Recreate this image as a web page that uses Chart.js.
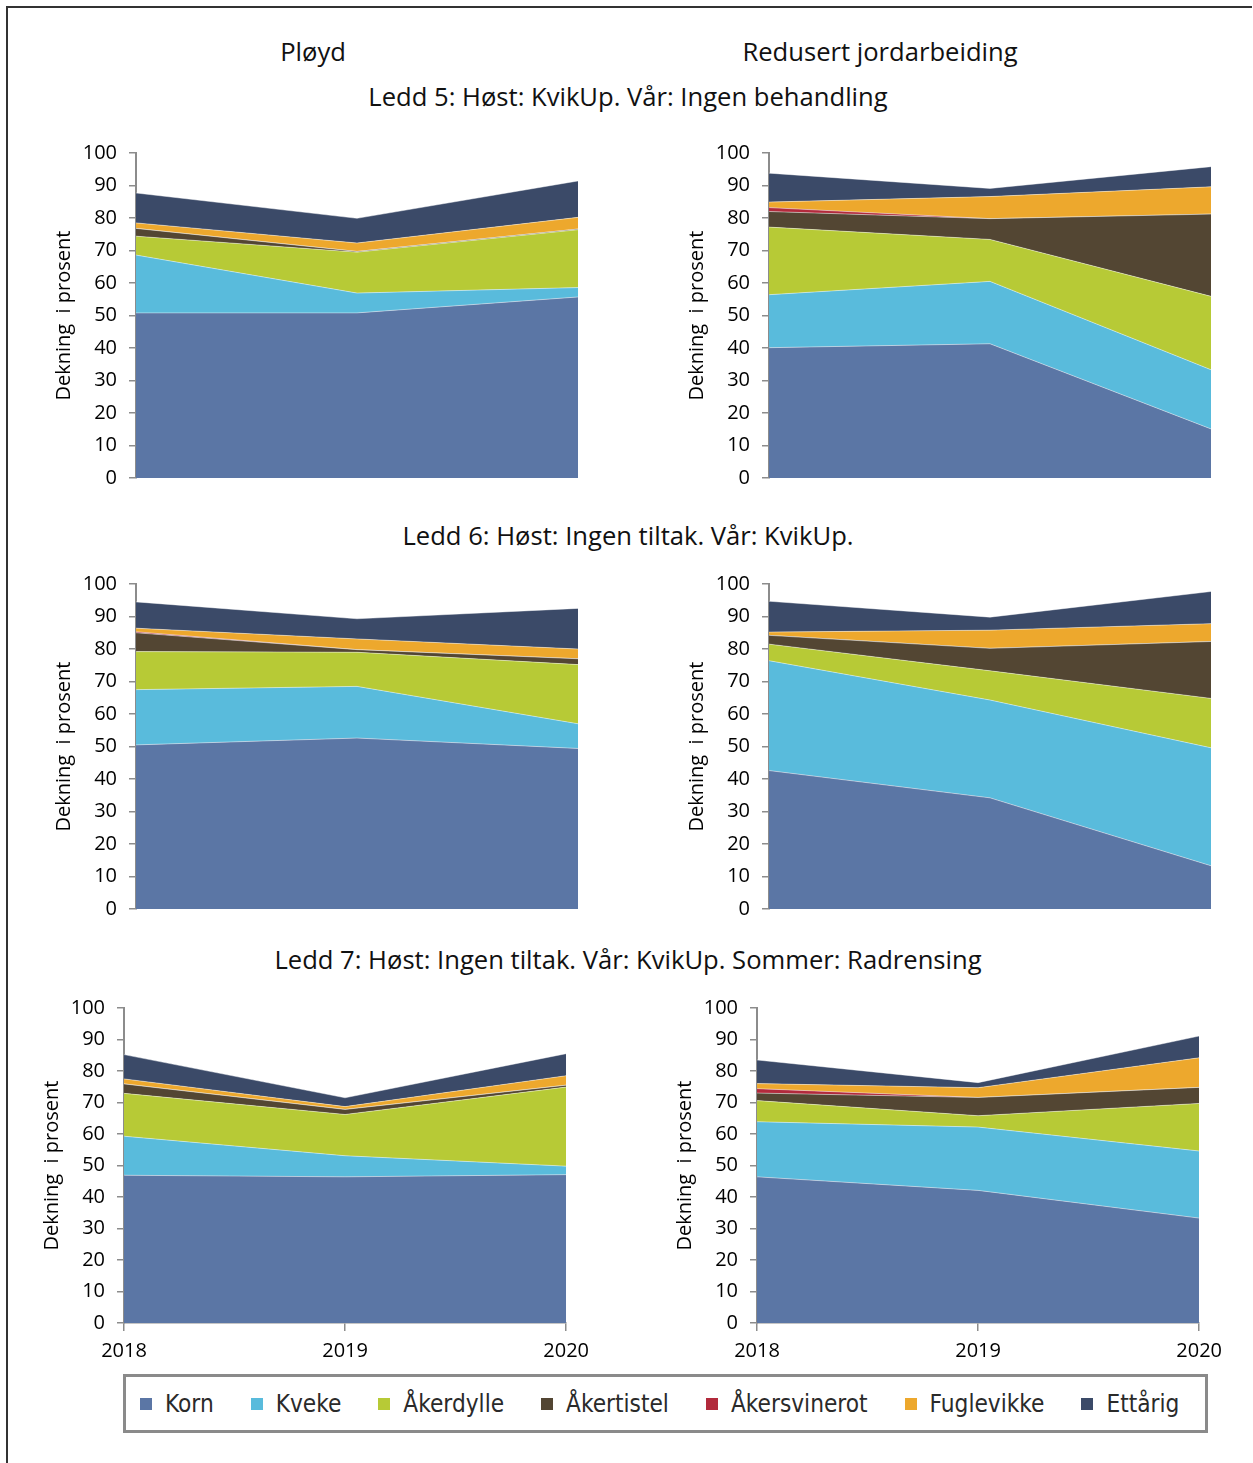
<!DOCTYPE html>
<html><head><meta charset="utf-8">
<script src="https://cdn.jsdelivr.net/npm/chart.js@4.4.1/dist/chart.umd.min.js"></script>
<style>
html,body{margin:0;padding:0;background:#fff;}
body{width:1253px;height:1463px;overflow:hidden;position:relative;font-family:'Open Sans',sans-serif;color:#111;}
.frame{position:absolute;left:6px;top:6px;width:1246px;height:1460px;border-top:2px solid #333;border-left:2px solid #333;box-sizing:border-box;}
.t{position:absolute;font-size:25.6px;line-height:30px;white-space:nowrap;transform:translateX(-50%);}
.cw{position:absolute;}
#legend{position:absolute;left:123px;top:1374px;width:1085px;height:59px;border:3px solid #8a8a8a;box-sizing:border-box;display:flex;align-items:center;padding-left:14px;font-family:'DejaVu Sans Condensed','DejaVu Sans',sans-serif;font-size:24.2px;color:#2a2a2a;}
#legend .it{display:flex;align-items:center;margin-right:37px;}
#legend .sw{width:12px;height:12px;margin-right:13px;}
</style>
</head><body>
<div class="frame"></div>
<div class="t" style="left:313px;top:37px;">Pløyd</div>
<div class="t" style="left:880px;top:37px;">Redusert jordarbeiding</div>
<div class="t" style="left:628px;top:82px;">Ledd 5: Høst: KvikUp. Vår: Ingen behandling</div>
<div class="t" style="left:628px;top:521px;">Ledd 6: Høst: Ingen tiltak. Vår: KvikUp.</div>
<div class="t" style="left:628px;top:945px;">Ledd 7: Høst: Ingen tiltak. Vår: KvikUp. Sommer: Radrensing</div>
<div id="charts"></div>
<div id="legend"></div>
<script>
// ---- data ----
const years = ['2018', '2019', '2020'];
const seriesNames = ['Korn', 'Kveke', 'Åkerdylle', 'Åkertistel', 'Åkersvinerot', 'Fuglevikke', 'Ettårig'];
const seriesColors = ['#5b76a5', '#59bbdc', '#b7ca36', '#534633', '#b22a3c', '#eda82d', '#3b4a68'];
const yTicks = [0, 10, 20, 30, 40, 50, 60, 70, 80, 90, 100];
const yTitle = 'Dekning  i prosent';

// rows follow seriesNames order; columns follow years
const ploydLedd5 = [
  [50.8, 50.8, 55.7],
  [17.8, 6.1, 2.9],
  [5.8, 12.6, 17.8],
  [2.4, 0.2, 0.2],
  [0, 0, 0],
  [1.7, 2.6, 3.6],
  [9.2, 7.6, 11.2]
];
const redusertLedd5 = [
  [40.1, 41.3, 15.1],
  [16.3, 19.2, 18.2],
  [20.8, 12.9, 22.6],
  [4.8, 6.4, 25.3],
  [1.2, 0, 0],
  [1.7, 6.8, 8.4],
  [8.9, 2.5, 6.2]
];
const ploydLedd6 = [
  [50.5, 52.6, 49.4],
  [17.0, 15.9, 7.6],
  [11.7, 10.5, 18.2],
  [5.8, 0.8, 1.8],
  [0.3, 0, 0],
  [1.1, 3.3, 3.0],
  [8.1, 6.2, 12.5]
];
const redusertLedd6 = [
  [42.6, 34.2, 13.3],
  [33.8, 30.1, 36.3],
  [5.1, 9.0, 15.2],
  [2.7, 6.9, 17.5],
  [0, 0, 0],
  [1.0, 5.6, 5.5],
  [9.5, 4.0, 9.9]
];
const ploydLedd7 = [
  [46.9, 46.4, 47.1],
  [12.4, 6.7, 2.7],
  [13.6, 13.1, 25.1],
  [3.0, 1.6, 0.6],
  [0, 0, 0],
  [1.6, 0.9, 3.0],
  [7.7, 2.8, 7.0]
];
const redusertLedd7 = [
  [46.4, 42.1, 33.3],
  [17.5, 20.1, 21.3],
  [6.7, 3.6, 15.1],
  [2.4, 5.8, 5.1],
  [1.4, 0, 0],
  [1.6, 3.1, 9.4],
  [7.5, 1.6, 6.9]
];

// ---- layout (plot-area boxes) ----
const panels = [
  {data: ploydLedd5,    l: 136, r: 578,  t: 153,  b: 478,  showX: false},
  {data: redusertLedd5, l: 769, r: 1211, t: 153,  b: 478,  showX: false},
  {data: ploydLedd6,    l: 136, r: 578,  t: 584,  b: 909,  showX: false},
  {data: redusertLedd6, l: 769, r: 1211, t: 584,  b: 909,  showX: false},
  {data: ploydLedd7,    l: 124, r: 567,  t: 1008, b: 1323, showX: true},
  {data: redusertLedd7, l: 757, r: 1200, t: 1008, b: 1323, showX: true}
];
const Y_AXIS_W = 96, PAD_T = 28, PAD_R = 30, X_AXIS_H = 40;
const FONT = "'Open Sans', sans-serif";
const AXIS_GRAY = '#8c8c8c';

const holder = document.getElementById('charts');
panels.forEach((p) => {
  const padB = p.showX ? 6 : 28;
  const w = (p.r - p.l) + Y_AXIS_W + PAD_R;
  const h = (p.b - p.t) + PAD_T + (p.showX ? X_AXIS_H : 0) + padB;
  const div = document.createElement('div');
  div.className = 'cw';
  div.style.left = (p.l - Y_AXIS_W) + 'px';
  div.style.top = (p.t - PAD_T) + 'px';
  div.style.width = w + 'px';
  div.style.height = h + 'px';
  const cv = document.createElement('canvas');
  cv.width = w; cv.height = h;
  div.appendChild(cv);
  holder.appendChild(div);

  const datasets = seriesNames.map((name, i) => ({
    label: name,
    data: p.data[i],
    backgroundColor: seriesColors[i],
    borderColor: 'rgba(255,255,255,0.55)',
    borderWidth: 0.8,
    pointRadius: 0,
    pointHoverRadius: 0,
    tension: 0,
    fill: i === 0 ? 'origin' : '-1'
  }));

  new Chart(cv, {
    type: 'line',
    data: {labels: years, datasets},
    options: {
      responsive: false,
      animation: false,
      events: [],
      layout: {padding: {top: PAD_T, right: PAD_R, bottom: padB, left: 0}},
      plugins: {legend: {display: false}, tooltip: {enabled: false}, title: {display: false}},
      scales: {
        x: {
          display: p.showX,
          offset: false,
          grid: {display: true, drawOnChartArea: false, drawTicks: true, tickLength: 8, color: AXIS_GRAY, lineWidth: 1.5},
          border: {display: true, color: AXIS_GRAY, width: 1.5},
          ticks: {font: {family: FONT, size: 20}, color: '#000', padding: 8, maxRotation: 0, autoSkip: false},
          afterFit: s => { if (p.showX) s.height = X_AXIS_H; }
        },
        y: {
          stacked: true,
          min: 0, max: 100,
          afterBuildTicks: s => { s.ticks = yTicks.map(v => ({value: v})); },
          grid: {display: true, drawOnChartArea: false, drawTicks: true, tickLength: 7, color: AXIS_GRAY, lineWidth: 1.5},
          border: {display: true, color: AXIS_GRAY, width: 2},
          ticks: {font: {family: FONT, size: 20}, color: '#000', padding: 12},
          title: {display: true, text: yTitle, font: {family: FONT, size: 20}, color: '#000', padding: {top: 12, bottom: 0}},
          afterFit: s => { s.width = Y_AXIS_W; }
        }
      }
    }
  });
});

// ---- legend ----
const lg = document.getElementById('legend');
seriesNames.forEach((name, i) => {
  const it = document.createElement('div');
  it.className = 'it';
  const sw = document.createElement('span');
  sw.className = 'sw';
  sw.style.background = seriesColors[i];
  const tx = document.createElement('span');
  tx.textContent = name;
  it.appendChild(sw); it.appendChild(tx);
  lg.appendChild(it);
});
</script>
</body></html>
